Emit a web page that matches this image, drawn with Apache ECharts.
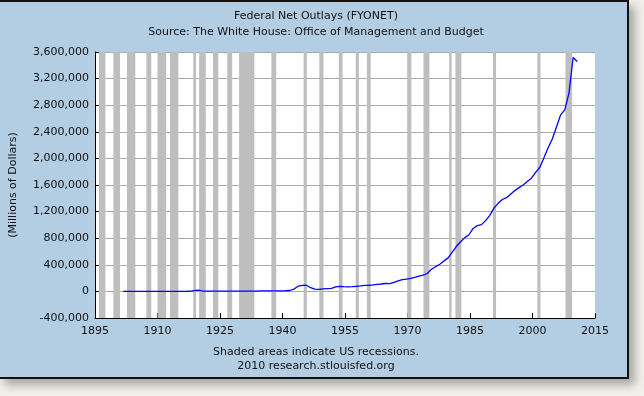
<!DOCTYPE html>
<html>
<head>
<meta charset="utf-8">
<script src="https://cdn.jsdelivr.net/npm/echarts@6/dist/echarts.min.js"></script>
<style>
  html, body { margin: 0; padding: 0; background: #f1f0eb; width: 644px; height: 396px; overflow: hidden; }
  #frame { position: absolute; left: -2px; top: 0; width: 631px; height: 379px; box-sizing: border-box;
           background: #b3cde3; border: 2px solid #111; box-shadow: 6px 6px 9px rgba(0,0,0,0.3); }
  #chart { position: absolute; left: 0; top: 0; width: 644px; height: 396px; }
</style>
</head>
<body>
<div id="frame"></div>
<div id="chart"></div>
<script>
// fiscal years and net outlays (millions of dollars)
var years = [];
for (var y = 1901; y <= 2010; y++) years.push(y);
var outlays = [
  525, 485, 517, 584, 567, 570, 579, 659, 694, 694,
  691, 690, 715, 726, 746, 713, 1954, 12677, 18493, 6358,
  5062, 3289, 3140, 2908, 2924, 2930, 2857, 2961, 3127, 3320,
  3577, 4659, 4598, 6541, 6412, 8228, 7580, 6840, 9141, 9468,
  13653, 35137, 78555, 91304, 92712, 55232, 34496, 29764, 38835, 42562,
  45514, 67686, 76101, 70855, 68444, 70640, 76578, 82405, 92098, 92191,
  97723, 106821, 111316, 118528, 118228, 134532, 157464, 178134, 183640, 195649,
  210172, 230681, 245707, 269359, 332332, 371792, 409218, 458746, 504028, 590941,
  678241, 745743, 808364, 851805, 946344, 990382, 1004017, 1064416, 1143744, 1252994,
  1324226, 1381529, 1409386, 1461753, 1515742, 1560484, 1601116, 1652458, 1701842, 1788950,
  1862846, 2010894, 2159899, 2292841, 2471957, 2655050, 2728686, 2982544, 3517677, 3456213
];
// fiscal year ends Sept 30
var fyOffset = 0.75;

// US recessions (decimal years)
var recStart = [1895.92, 1899.42, 1902.67, 1907.33, 1910.0, 1913.0, 1918.58, 1920.0, 1923.33, 1926.75,
                1929.58, 1937.33, 1945.08, 1948.83, 1953.5, 1957.58, 1960.25, 1969.92, 1973.83, 1980.0,
                1981.5, 1990.5, 2001.17, 2007.92];
var recEnd   = [1897.5, 1901.0, 1904.67, 1908.5, 1912.08, 1915.0, 1919.25, 1921.58, 1924.58, 1927.92,
                1933.25, 1938.5, 1945.83, 1949.83, 1954.42, 1958.33, 1961.17, 1970.92, 1975.25, 1980.58,
                1982.92, 1991.25, 2001.92, 2009.5];

var yTicks = { min: -400000, max: 3600000, step: 400000 };
var xTicks = { min: 1895, max: 2015, step: 15 };

var lineData = years.map(function (yr, i) { return [yr + fyOffset, outlays[i]]; });
var recAreas = recStart.map(function (s, i) { return [{ xAxis: s }, { xAxis: recEnd[i] }]; });

var font = 'DejaVu Sans, Verdana, sans-serif';
function label(text, x, y) {
    return { type: 'text', silent: true, x: x, y: y,
             style: { text: text, fill: '#111', font: '11px ' + font,
                      textAlign: 'center', textVerticalAlign: 'middle' } };
}

var myChart = echarts.init(document.getElementById('chart'));
var option = {
    backgroundColor: 'transparent',
    animation: false,
    textStyle: { fontFamily: font },
    grid: { left: 93, right: 49, top: 52, bottom: 78, containLabel: false,
            show: true, backgroundColor: '#fff', borderWidth: 0 },
    xAxis: {
        type: 'value',
        min: xTicks.min, max: xTicks.max, interval: xTicks.step,
        axisLine: { onZero: false, lineStyle: { color: '#000', width: 1 } },
        axisTick: { inside: true, length: 5, lineStyle: { color: '#000' } },
        axisLabel: { color: '#111', fontSize: 11, fontFamily: font, margin: 8,
                     formatter: function (v) { return String(v); } },
        splitLine: { show: false }
    },
    yAxis: {
        type: 'value',
        min: yTicks.min, max: yTicks.max, interval: yTicks.step,
        name: '(Millions of Dollars)',
        nameLocation: 'middle',
        nameGap: 76,
        nameTextStyle: { color: '#111', fontSize: 11, fontFamily: font },
        axisLine: { show: true, onZero: false, lineStyle: { color: '#000', width: 1 } },
        axisTick: { show: true, inside: true, length: 5, lineStyle: { color: '#000' } },
        axisLabel: { color: '#111', fontSize: 11, fontFamily: font, margin: 6,
                     formatter: function (v) { return v.toLocaleString('en-US'); } },
        splitLine: { show: true, lineStyle: { color: '#a9a9a9', width: 1 } }
    },
    graphic: [
        label('Federal Net Outlays (FYONET)', 316, 16),
        label('Source: The White House: Office of Management and Budget', 316, 32),
        label('Shaded areas indicate US recessions.', 316, 352),
        label('2010 research.stlouisfed.org', 316, 366)
    ],
    series: [
        {
            name: 'recessions',
            type: 'line',
            data: [],
            z: 1,
            silent: true,
            markArea: {
                silent: true,
                itemStyle: { color: '#bebebe', opacity: 1 },
                data: recAreas
            }
        },
        {
            name: 'FYONET',
            type: 'line',
            z: 3,
            data: lineData,
            showSymbol: false,
            lineStyle: { color: '#0000ff', width: 1.3 },
            itemStyle: { color: '#0000ff' }
        }
    ]
};
myChart.setOption(option);
</script>
</body>
</html>
